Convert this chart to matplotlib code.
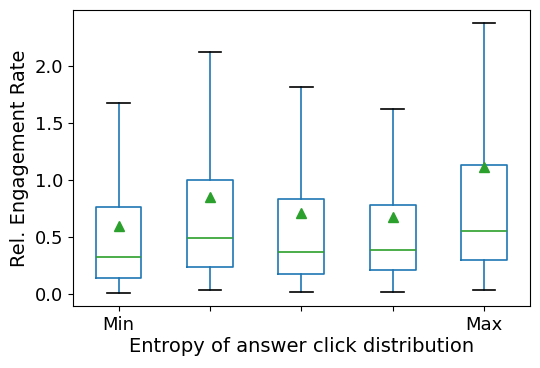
import matplotlib
matplotlib.use("Agg")
import matplotlib.pyplot as plt

labels = ["Min", "", "", "", "Max"]
whisker_lo = [0.009, 0.030, 0.015, 0.018, 0.032]
q1 = [0.138, 0.234, 0.170, 0.205, 0.298]
medians = [0.322, 0.491, 0.368, 0.386, 0.553]
q3 = [0.763, 0.997, 0.833, 0.775, 1.132]
whisker_hi = [1.673, 2.120, 1.810, 1.623, 2.372]
means = [0.597, 0.851, 0.705, 0.675, 1.114]

stats = []
for i in range(len(labels)):
    stats.append({
        "label": labels[i],
        "whislo": whisker_lo[i],
        "q1": q1[i],
        "med": medians[i],
        "q3": q3[i],
        "whishi": whisker_hi[i],
        "mean": means[i],
        "fliers": [],
    })

fig, ax = plt.subplots(figsize=(5.4, 3.68), dpi=100)
fig.subplots_adjust(left=0.135, right=0.981, top=0.973, bottom=0.168)

lw = 1.2
ax.bxp(stats, showmeans=True, showfliers=False, widths=0.5,
       boxprops=dict(color="C0", linewidth=lw),
       whiskerprops=dict(color="C0", linewidth=lw),
       capprops=dict(color="black", linewidth=lw),
       medianprops=dict(color="C2", linewidth=lw),
       meanprops=dict(marker="^", markersize=7, markerfacecolor="C2", markeredgecolor="C2"))

ax.set_xlabel("Entropy of answer click distribution", fontsize=14, labelpad=2)
ax.set_ylabel("Rel. Engagement Rate", fontsize=14)
ax.tick_params(labelsize=13)

fig.savefig("out.png")
